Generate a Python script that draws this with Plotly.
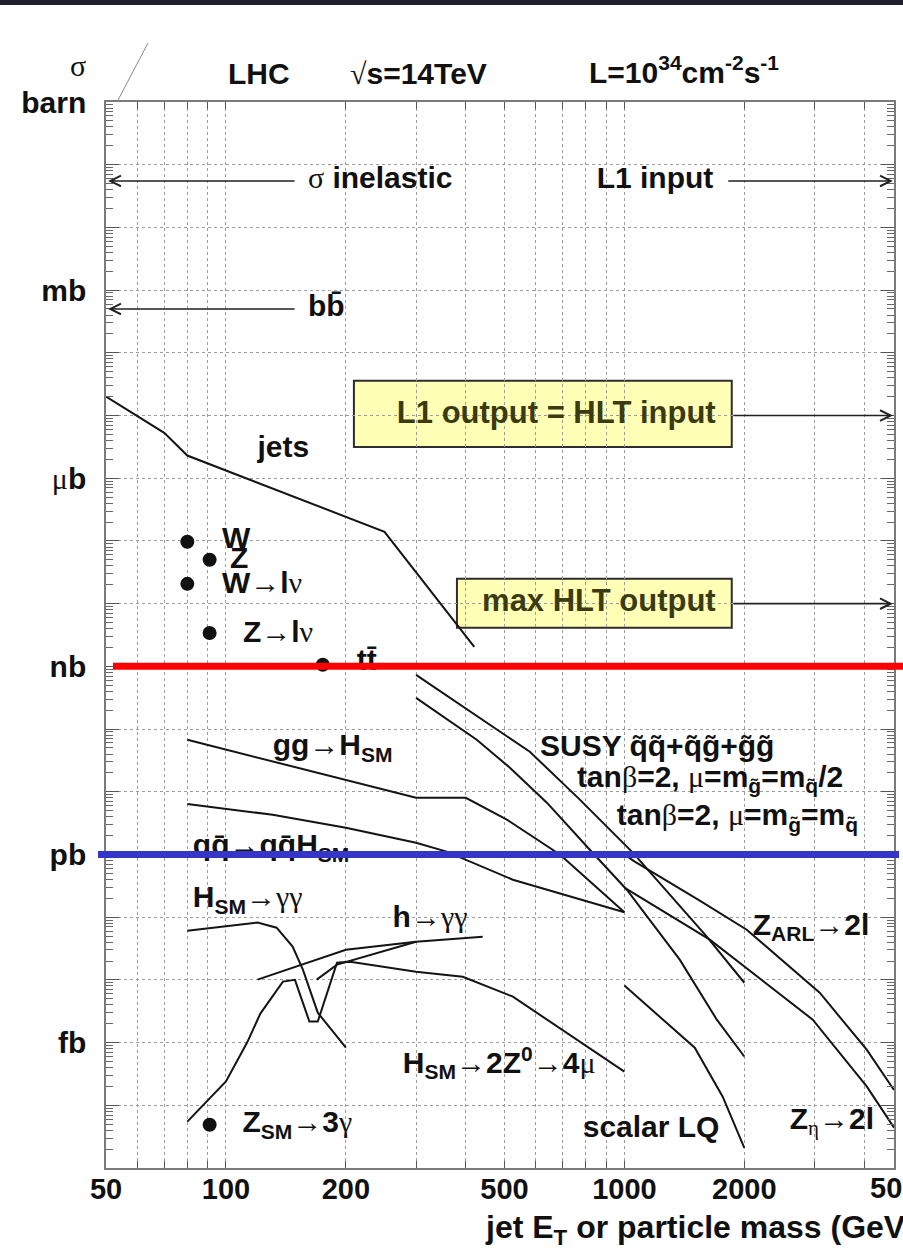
import numpy as np
import plotly.graph_objects as go

# ---------------------------------------------------------------------------
# Cross sections at the LHC (sqrt(s) = 14 TeV), x in GeV, sigma in barn
# ---------------------------------------------------------------------------
jets_m = [50, 70, 80, 250, 420]
jets_xs = [2.0e-5, 5.3e-6, 2.3e-6, 1.4e-7, 2.05e-9]

# single points: W, Z, W->lv, Z->lv, ttbar, Z_SM->3gamma
dot_m = [80, 91, 80, 91, 175, 91]
dot_xs = [9.7e-8, 5.0e-8, 2.07e-8, 3.4e-9, 1.06e-9, 4.9e-17]

ggH_m = [80, 300, 400, 507, 690, 1000]
ggH_xs = [6.75e-11, 8.0e-12, 8.0e-12, 3.6e-12, 9.9e-13, 1.2e-13]

qqH_m = [80, 131, 200, 300, 358, 525, 1000]
qqH_xs = [6.4e-12, 4.3e-12, 2.67e-12, 1.54e-12, 1.11e-12, 3.96e-13, 1.2e-13]

susy_half_m = [300, 434, 579, 773, 1050, 1610, 2000]
susy_half_xs = [7.3e-10, 1.51e-10, 4.35e-11, 7.5e-12, 1.07e-12, 4.9e-14, 9.0e-15]

susy_eq_m = [300, 426, 516, 639, 819, 1014, 1377, 1706, 2000]
susy_eq_xs = [3.15e-10, 6.75e-11, 2.42e-11, 6.7e-12, 1.19e-12, 2.74e-13, 2.1e-14, 2.32e-15, 6.0e-16]

zarl_m = [1000, 1062, 1546, 2028, 3092, 4057, 4750]
zarl_xs = [1.0e-12, 7.7e-13, 1.83e-13, 6.3e-14, 6.25e-15, 7.7e-16, 1.75e-16]

zeta_m = [1000, 1638, 2970, 4057, 4750]
zeta_xs = [2.95e-13, 4.38e-14, 2.32e-15, 2.0e-16, 4.4e-17]

lq_m = [1000, 1502, 1765, 2000]
lq_xs = [8.1e-15, 8.3e-16, 1.37e-16, 2.1e-17]

h4mu_m = [80, 100, 113, 122, 139, 149, 162, 170, 190, 205, 300, 393, 525, 1000]
h4mu_xs = [5.5e-17, 2.4e-16, 1.0e-15, 2.9e-15, 9.4e-15, 1.0e-14, 2.16e-15, 2.16e-15,
           1.88e-14, 1.95e-14, 1.35e-14, 1.12e-14, 5.4e-15, 3.44e-16]

hgg_m = [80, 120, 134, 147, 156, 170, 200]
hgg_xs = [6.1e-14, 8.2e-14, 6.8e-14, 3.4e-14, 1.46e-14, 3.0e-15, 8.3e-16]

mssm_hgg_m = [120, 200, 300, 441]
mssm_hgg_xs = [1.01e-14, 3.03e-14, 4.06e-14, 4.89e-14]
mssm_hgg2_m = [169, 190, 300]
mssm_hgg2_xs = [1.01e-14, 1.75e-14, 4.06e-14]

# rate levels (barn)
sigma_inel = 0.055
bb_xs = 5.0e-4
l1_out_xs = 1.0e-5
hlt_out_xs = 1.0e-8
nb_level = 1e-9
pb_level = 1e-12

# axis ticks
x_tick_vals = [50, 100, 200, 500, 1000, 2000, 5000]
x_tick_text = ["50", "100", "200", "500", "1000", "2000", "5000"]
y_unit_vals = [1, 1e-3, 1e-6, 1e-9, 1e-12, 1e-15]
y_unit_text = ["barn", "mb", "<span style=\"font-family:Liberation Serif;font-weight:normal\">μ</span>b",
               "nb", "pb", "fb"]

# ---------------------------------------------------------------------------
W, H = 903, 1254
L, R, T, B = 106, 894, 102, 1168          # frame edges in pixels
X_MIN, X_MAX = 50, 4750
Y_MIN_EXP, Y_MAX_EXP = -17, 0


def px_x(p):
    return (p - L) / (R - L)


def px_y(p):
    return (B - p) / (B - T)


def xfrac(v):
    lo, hi = np.log10(X_MIN), np.log10(X_MAX)
    return (np.log10(v) - lo) / (hi - lo)


SANS = "Liberation Sans, Arial, Helvetica, sans-serif"


def g(s):
    return f'<span style="font-family:Liberation Serif;font-weight:normal">{s}</span>'


AR = '<span style="font-weight:normal">→</span>'

fig = go.Figure()

LINE = dict(color="#141414", width=2)
for m, xs in [(jets_m, jets_xs), (ggH_m, ggH_xs), (qqH_m, qqH_xs),
              (susy_half_m, susy_half_xs), (susy_eq_m, susy_eq_xs),
              (zarl_m, zarl_xs), (zeta_m, zeta_xs), (lq_m, lq_xs),
              (h4mu_m, h4mu_xs), (hgg_m, hgg_xs),
              (mssm_hgg_m, mssm_hgg_xs), (mssm_hgg2_m, mssm_hgg2_xs)]:
    fig.add_trace(go.Scatter(x=m, y=xs, mode="lines", line=LINE,
                             hoverinfo="skip", showlegend=False))

fig.add_trace(go.Scatter(x=dot_m, y=dot_xs, mode="markers",
                         marker=dict(size=14, color="#111111"),
                         hoverinfo="skip", showlegend=False))

INK = "#111"
OLIVE = "#3b3b12"
labels = [
    (120, 2.83e-6, "jets", "middle right", INK, 30),
    (97.7, 1.0e-7, "W", "middle right", INK, 30),
    (102.4, 4.82e-8, "Z", "middle right", INK, 30),
    (97.7, 1.92e-8, "W" + AR + "l" + g("ν"), "middle right", INK, 30),
    (110.3, 3.19e-9, "Z" + AR + "l" + g("ν"), "middle right", INK, 30),
    (213, 1.14e-9, "tt\u0304", "middle right", INK, 30),
    (131, 5.04e-11, "gg" + AR + "H<sub>SM</sub>", "middle right", INK, 30),
    (82.6, 1.28e-12, "qq\u0304" + AR + "qq\u0304H<sub>SM</sub>", "middle right", INK, 30),
    (614, 4.85e-11, "SUSY q\u0303q\u0303+q\u0303g\u0303+g\u0303g\u0303", "middle right", INK, 30),
    (760, 1.56e-11, "tan" + g("β") + "=2, " + g("μ") + "=m<sub>g\u0303</sub>=m<sub>q\u0303</sub>/2",
     "middle right", INK, 30),
    (957, 3.85e-12, "tan" + g("β") + "=2, " + g("μ") + "=m<sub>g\u0303</sub>=m<sub>q\u0303</sub>",
     "middle right", INK, 30),
    (82.6, 1.9e-13, "H<sub>SM</sub>" + AR + g("γγ"), "middle right", INK, 30),
    (262, 9.1e-14, "h" + AR + g("γγ"), "middle right", INK, 30),
    (278, 4.29e-16, "H<sub>SM</sub>" + AR + "2Z<sup>0</sup>" + AR + "4" + g("μ"), "middle right", INK, 30),
    (786, 4.1e-17, "scalar LQ", "middle right", INK, 30),
    (2600, 5.5e-17, "Z<sub>" + g("η") + "</sub>" + AR + "2l", "middle right", INK, 30),
    (2100, 6.8e-14, "Z<sub>ARL</sub>" + AR + "2l", "middle right", INK, 30),
    (110, 4.9e-17, "Z<sub>SM</sub>" + AR + "3" + g("γ"), "middle right", INK, 30),
    (160.6, sigma_inel, g("σ") + " inelastic", "middle right", INK, 30),
    (160.6, bb_xs, "bb\u0304", "middle right", INK, 30),
    (852, sigma_inel, "L1 input", "middle right", INK, 30),
    (1695, l1_out_xs, "L1 output = HLT input", "middle left", OLIVE, 31),
    (1695, hlt_out_xs, "max HLT output", "middle left", OLIVE, 31),
]
fig.add_trace(go.Scatter(
    x=[l[0] for l in labels], y=[l[1] for l in labels],
    text=[l[2] for l in labels], textposition=[l[3] for l in labels],
    mode="text", cliponaxis=False, hoverinfo="skip", showlegend=False,
    textfont=dict(family=SANS, size=[l[5] for l in labels],
                  color=[l[4] for l in labels], weight="bold"),
))

shapes = []
# trigger-level boxes (under the grid)
for x0, x1, y0, y1 in [(209.5, 1860, 3.57e-5, 3.16e-6), (380, 1860, 2.49e-8, 4.12e-9)]:
    shapes.append(dict(type="rect", xref="x", yref="y", x0=x0, x1=x1, y0=y0, y1=y1,
                       fillcolor="#ffffb6", line=dict(color="#2e2e2e", width=2), layer="below"))
# nb and pb reference lines
shapes.append(dict(type="line", xref="paper", yref="y", x0=px_x(113), x1=px_x(903),
                   y0=nb_level, y1=nb_level, line=dict(color="#ff0000", width=7), layer="above"))
shapes.append(dict(type="line", xref="paper", yref="y", x0=px_x(98), x1=px_x(899),
                   y0=pb_level, y1=pb_level, line=dict(color="#3535c8", width=7), layer="above"))
# corner stroke
shapes.append(dict(type="line", xref="paper", yref="paper", x0=px_x(117), y0=px_y(102),
                   x1=px_x(148), y1=px_y(43), line=dict(color="#8a8a8a", width=1), layer="above"))
# dark header strip
shapes.append(dict(type="rect", xref="paper", yref="paper", x0=px_x(0), x1=px_x(910),
                   y0=px_y(5), y1=px_y(-2), fillcolor="#1e1e30", line=dict(width=0), layer="above"))

annotations = []
# rate arrows
ARROW = dict(text="", showarrow=True, arrowhead=5, arrowsize=1.3, arrowwidth=1.6,
             arrowcolor="#222", xref="x", yref="y", axref="x", ayref="y")
for tail, head, lvl in [(150, 50.6, sigma_inel), (150, 50.6, bb_xs),
                        (1807, 4720, sigma_inel), (1860, 4720, l1_out_xs),
                        (1860, 4720, hlt_out_xs)]:
    annotations.append(dict(ARROW, x=np.log10(head), ax=np.log10(tail),
                            y=np.log10(lvl), ay=np.log10(lvl)))

TXT = dict(family=SANS, size=30, color=INK, weight="bold")
annotations += [
    dict(text=g("σ"), xref="paper", yref="paper", x=px_x(88), y=px_y(66),
         xanchor="right", yanchor="middle", showarrow=False, font=dict(TXT, size=30)),
    dict(text="LHC", xref="paper", yref="paper", x=px_x(259), y=px_y(74),
         xanchor="center", yanchor="middle", showarrow=False, font=TXT),
    dict(text=g("√") + "s=14TeV", xref="paper", yref="paper", x=px_x(418), y=px_y(74),
         xanchor="center", yanchor="middle", showarrow=False, font=TXT),
    dict(text="L=10<sup>34</sup>cm<sup>-2</sup>s<sup>-1</sup>", xref="paper", yref="paper",
         x=px_x(587), y=px_y(70), xanchor="left", yanchor="middle", showarrow=False, font=TXT),
    dict(text="jet E<sub>T</sub> or particle mass (GeV)", xref="paper", yref="paper",
         x=px_x(483), y=px_y(1229), xanchor="left", yanchor="middle", showarrow=False,
         font=dict(TXT, size=32)),
]
# tick labels beyond the visible frame
for v, t in zip(x_tick_vals, x_tick_text):
    if v > X_MAX:
        annotations.append(dict(text=t, xref="paper", yref="paper", x=xfrac(v), y=px_y(1188),
                                xanchor="center", yanchor="middle", showarrow=False,
                                font=dict(TXT, size=29)))

# grid positions: every digit in each decade
x_grid = [d * 10 ** k for k in (1, 2, 3) for d in range(1, 10) if X_MIN <= d * 10 ** k <= X_MAX]
x_text = [x_tick_text[x_tick_vals.index(v)] if v in x_tick_vals else "" for v in x_grid]
y_grid = [10.0 ** k for k in range(Y_MIN_EXP, Y_MAX_EXP + 1)]
y_text = []
for v in y_grid:
    match = [t for u, t in zip(y_unit_vals, y_unit_text) if np.isclose(np.log10(u), np.log10(v))]
    y_text.append(match[0] if match else "")
y_minor = [d * 10.0 ** k for k in range(Y_MIN_EXP, Y_MAX_EXP) for d in range(2, 10)]

GRID = dict(showgrid=True, gridcolor="#9c9c9c", gridwidth=1, griddash="dot")
fig.update_layout(
    width=W, height=H,
    margin=dict(l=L, r=W - R, t=T, b=H - B, pad=0, autoexpand=False),
    paper_bgcolor="white", plot_bgcolor="white",
    shapes=shapes, annotations=annotations, showlegend=False,
    xaxis=dict(type="log", range=[np.log10(X_MIN), np.log10(X_MAX)], tickmode="array",
               tickvals=x_grid, ticktext=x_text, ticks="inside", ticklen=7, tickwidth=1.2,
               tickcolor="#555", showline=True, linecolor="#7a7a7a", linewidth=1.5,
               mirror="ticks", automargin=False, ticklabelstandoff=-6,
               tickfont=dict(family=SANS, size=29, color=INK, weight="bold"), **GRID),
    yaxis=dict(type="log", range=[Y_MIN_EXP, Y_MAX_EXP], tickmode="array",
               tickvals=y_grid, ticktext=y_text, ticks="inside", ticklen=13, tickwidth=1.2,
               tickcolor="#555", showline=True, linecolor="#7a7a7a", linewidth=1.5,
               mirror="ticks", automargin=False, ticklabelstandoff=12,
               minor=dict(tickvals=y_minor, ticks="inside", ticklen=7, tickwidth=1,
                          tickcolor="#666", showgrid=False),
               tickfont=dict(family=SANS, size=30, color=INK, weight="bold"), **GRID),
)

fig.write_html("out.html", config={"displayModeBar": False})
